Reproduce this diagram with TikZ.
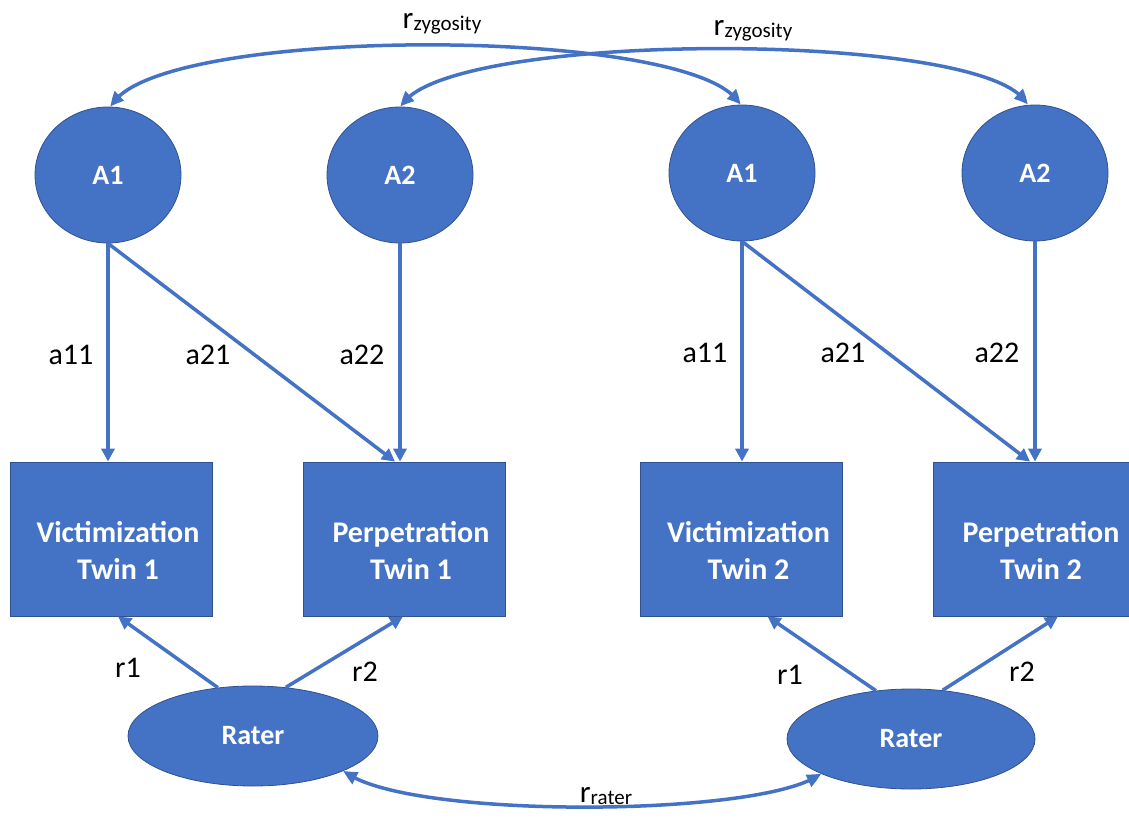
\documentclass[tikz,border=0pt]{standalone}
\usepackage{fontspec}
\setmainfont{Carlito}
\usetikzlibrary{arrows.meta,bending,calc,shapes.geometric}
\definecolor{obl}{HTML}{4472C4}
\definecolor{obd}{HTML}{2F528F}
\tikzset{
  latent/.style={ellipse,fill=obl,draw=obd,line width=0.8pt,inner sep=0pt,text=white,font=\fontsize{28}{30}\selectfont\bfseries},
  obsbox/.style={rectangle,fill=obl,draw=obd,line width=0.8pt,inner sep=0pt,minimum width=202pt,minimum height=154pt},
  boxtext/.style={text=white,align=center,inner sep=0pt,font=\fontsize{30}{37}\selectfont\bfseries},
  arr/.style={draw=obl,line width=3.5pt,-{Triangle[length=13pt,width=13pt]}},
  darr/.style={draw=obl,line width=3.5pt,{Triangle[length=13pt,width=13pt,bend]}-{Triangle[length=13pt,width=13pt,bend]}},
  lbl/.style={text=black,font=\fontsize{30}{32}\selectfont,inner sep=0pt},
}
\newcommand{\rsub}[1]{{\fontsize{31}{32}\selectfont r}\raisebox{-2pt}{\fontsize{21}{22}\selectfont #1}}
\begin{document}
\begin{tikzpicture}[x=1pt,y=-1pt]
\useasboundingbox (0,0) rectangle (1129,818);
% latent A
\node[latent,minimum width=146pt,minimum height=136pt] (a1l) at (108,175) {A1};
\node[latent,minimum width=146pt,minimum height=136pt] (a2l) at (400,175) {A2};
\node[latent,minimum width=146pt,minimum height=136pt] (a1r) at (742,173) {A1};
\node[latent,minimum width=146pt,minimum height=136pt] (a2r) at (1035,173) {A2};
% boxes
\node[obsbox] (vt1) at (111,539) {};
\node[obsbox] (pt1) at (404,539) {};
\node[obsbox] (vt2) at (741.5,539) {};
\node[obsbox] (pt2) at (1034,539) {};
\node[boxtext] (vt1t) at ([xshift=7pt,yshift=-11pt]vt1.center) {Victimization\\Twin 1};
\node[boxtext] (pt1t) at ([xshift=7pt,yshift=-11pt]pt1.center) {Perpetration\\Twin 1};
\node[boxtext] (vt2t) at ([xshift=7pt,yshift=-11pt]vt2.center) {Victimization\\Twin 2};
\node[boxtext] (pt2t) at ([xshift=7pt,yshift=-11pt]pt2.center) {Perpetration\\Twin 2};
% raters
\node[latent,minimum width=250pt,minimum height=100pt] (rl) at (253,736) {Rater};
\node[latent,minimum width=248pt,minimum height=100pt] (rr) at (911,739) {Rater};
% paths A -> observed
\draw[arr] (a1l.south) -- (a1l.south |- vt1.north);
\draw[arr] (a1l.south) -- ([xshift=-9pt]pt1.north);
\draw[arr] (a2l.south) -- (a2l.south |- pt1.north);
\draw[arr] (a1r.south) -- (a1r.south |- vt2.north);
\draw[arr] (a1r.south) -- ([xshift=-4pt]pt2.north);
\draw[arr] (a2r.south) -- (a2r.south |- pt2.north);
% rater paths
\draw[arr] (rl.126) -- ([xshift=7pt]vt1.south);
\draw[arr] (rl.56) -- ([xshift=-1pt]pt1.south);
\draw[arr] (rr.126) -- ([xshift=26pt]vt2.south);
\draw[arr] (rr.57) -- ([xshift=24pt]pt2.south);
% correlations
\draw[darr] ([xshift=3pt]a1l.north) .. controls ($(a1l.north)+(42,-82)$) and ($(a1r.north)+(-42,-80)$) .. ([xshift=-2pt]a1r.north);
\draw[darr] ([xshift=1pt]a2l.north) .. controls ($(a2l.north)+(40,-77)$) and ($(a2r.north)+(-40,-75)$) .. ([xshift=-8pt]a2r.north);
\draw[darr] (rl.-21) .. controls ($(rl.-21)+(58,49)$) and ($(rr.-159)+(-55,44)$) .. (rr.-159);
% labels
\node[lbl] (l1) at (71,355) {a11};
\node[lbl] (l2) at (208,355) {a21};
\node[lbl] (l3) at (362,355) {a22};
\node[lbl] (l4) at (705,353) {a11};
\node[lbl] (l5) at (843,353) {a21};
\node[lbl] (l6) at (997,353) {a22};
\node[lbl] (l7) at (128,668) {r1};
\node[lbl] (l8) at (365,672) {r2};
\node[lbl] (l9) at (790,675) {r1};
\node[lbl] (l10) at (1022,672) {r2};
\node[lbl] (z1) at (442,24) {\rsub{zygosity}};
\node[lbl] (z2) at (753,31) {\rsub{zygosity}};
\node[lbl] (rr1) at (606,796) {\rsub{rater}};
\end{tikzpicture}
\end{document}
